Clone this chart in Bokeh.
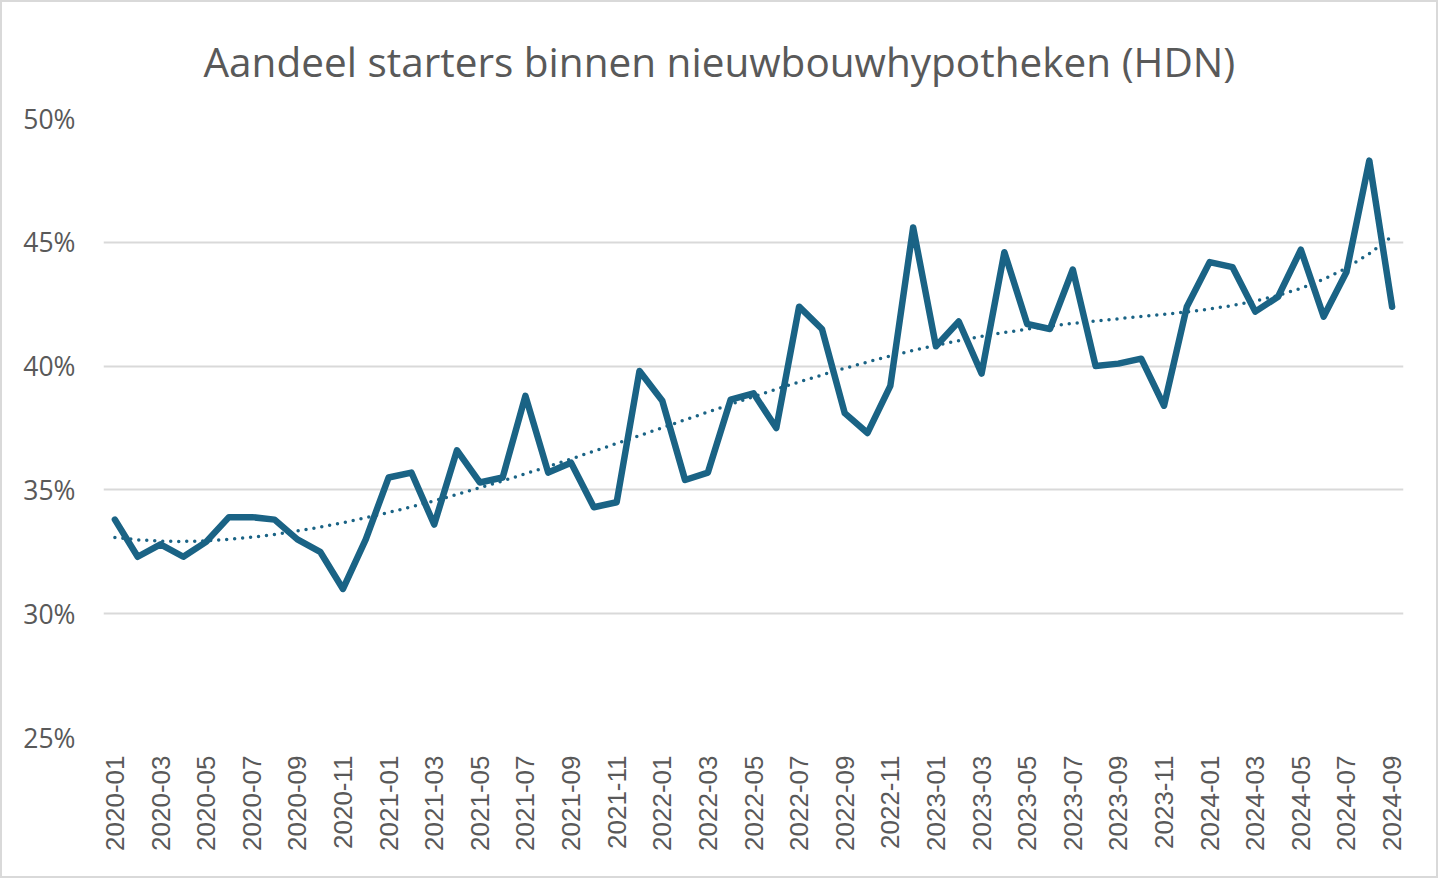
import numpy as np
from bokeh.plotting import figure
from bokeh.models import Range1d, FixedTicker, NumeralTickFormatter
from bokeh.embed import file_html
from bokeh.resources import INLINE

months = [f"{y}-{m:02d}" for y in range(2020, 2025) for m in range(1, 13)][:57]
share = [33.8, 32.3, 32.8, 32.3, 32.9, 33.9, 33.9, 33.8, 33.0, 32.5, 31.0, 33.0,
         35.5, 35.7, 33.6, 36.6, 35.3, 35.5, 38.8, 35.7, 36.1, 34.3, 34.5, 39.8,
         38.6, 35.4, 35.7, 38.65, 38.9, 37.5, 42.4, 41.5, 38.1, 37.3, 39.2, 45.6,
         40.8, 41.8, 39.7, 44.6, 41.7, 41.5, 43.9, 40.0, 40.1, 40.3, 38.4, 42.4,
         44.2, 44.0, 42.2, 42.8, 44.7, 42.0, 43.8, 48.3, 42.4]
y_ticks = [0.25, 0.30, 0.35, 0.40, 0.45, 0.50]

x = np.arange(len(share))
y = np.array(share) / 100.0
trend = np.polynomial.Polynomial.fit(x, y, 6)(x)

p = figure(frame_width=1300, frame_height=619, output_backend="svg", toolbar_location=None,
           x_range=Range1d(-0.5, len(share) - 0.5), y_range=Range1d(0.25, 0.50),
           min_border_left=101, min_border_right=33, min_border_top=116, min_border_bottom=139,
           title="Aandeel starters binnen nieuwbouwhypotheken (HDN)",
           styles={"border": "2px solid #d9d9d9", "box-sizing": "border-box"})
p.outline_line_color = None
p.title.align = "left"
p.title.offset = 100
p.title.text_font = "Open Sans"
p.title.text_font_size = "40.5px"
p.title.text_font_style = "normal"
p.title.text_color = "#595959"
p.title.standoff = 59

p.line(x, y, line_color="#1a6385", line_width=6.5, line_join="round", line_cap="round")
p.line(x, trend, line_color="#1a6385", line_width=3.5, line_dash="0 8", line_cap="round")

p.xgrid.grid_line_color = None
p.ygrid.grid_line_color = "#d9d9d9"
p.ygrid.grid_line_width = 2
p.ygrid.ticker = FixedTicker(ticks=y_ticks)

p.yaxis.ticker = FixedTicker(ticks=y_ticks)
p.yaxis.formatter = NumeralTickFormatter(format="0%")
p.yaxis.axis_line_color = None
p.yaxis.major_tick_line_color = None
p.yaxis.minor_tick_line_color = None
p.yaxis.major_label_text_font = "Open Sans"
p.yaxis.major_label_text_font_size = "26.5px"
p.yaxis.major_label_text_color = "#595959"
p.yaxis.major_label_standoff = 22

p.xaxis.ticker = FixedTicker(ticks=list(range(0, len(share), 2)))
p.xaxis.major_label_overrides = {i: months[i] for i in range(0, len(share), 2)}
p.xaxis.major_label_orientation = np.pi / 2
p.xaxis.axis_line_color = None
p.xaxis.major_tick_line_color = None
p.xaxis.minor_tick_line_color = None
p.xaxis.major_label_text_font = "Liberation Sans"
p.xaxis.major_label_text_font_size = "26px"
p.xaxis.major_label_text_color = "#595959"
p.xaxis.major_label_standoff = 12

open("out.html", "w").write(file_html(p, INLINE))
